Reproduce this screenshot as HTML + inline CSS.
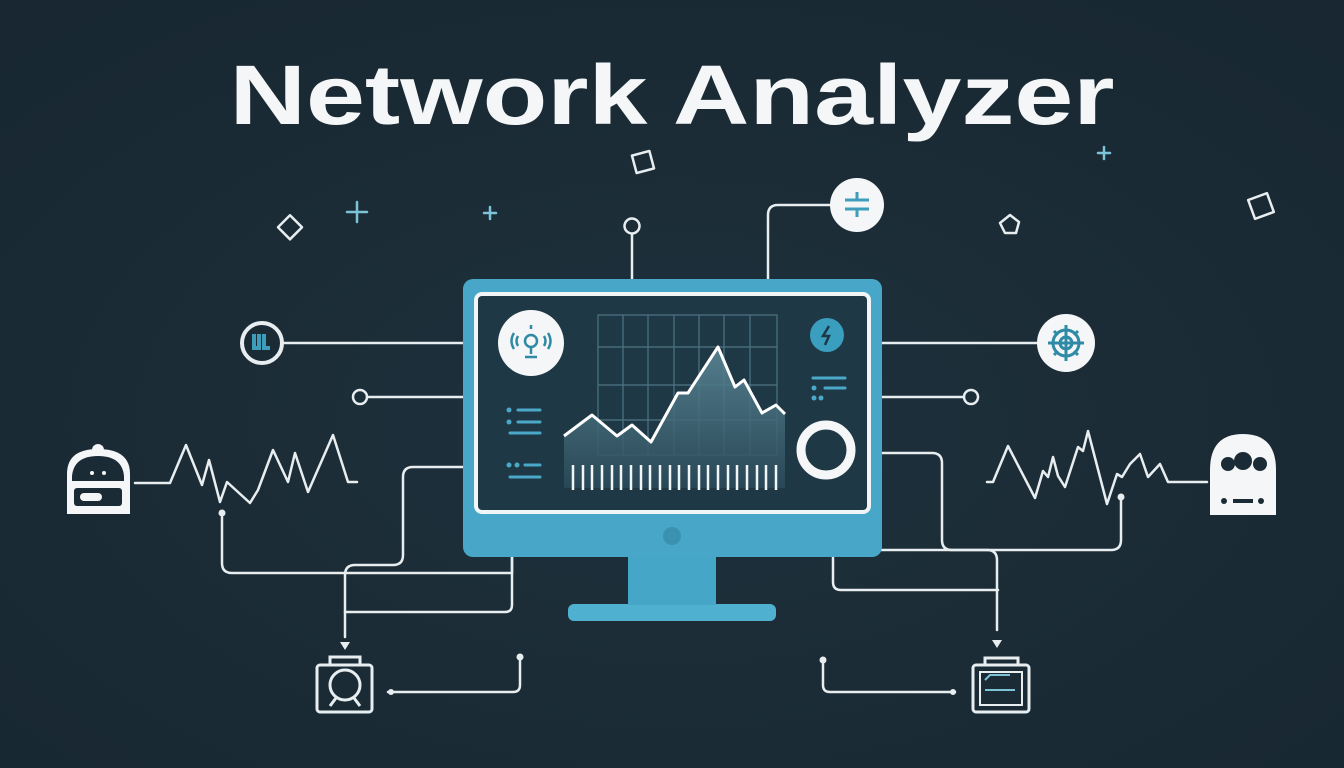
<!DOCTYPE html>
<html><head><meta charset="utf-8"><style>
html,body{margin:0;padding:0;background:#1b2b36;}
svg{display:block}
</style></head><body>
<svg width="1344" height="768" viewBox="0 0 1344 768" xmlns="http://www.w3.org/2000/svg">
<defs>
<radialGradient id="bg" cx="50%" cy="55%" r="70%"><stop offset="0" stop-color="#1e313c"/><stop offset="1" stop-color="#182731"/></radialGradient>
<linearGradient id="area" x1="0" y1="0" x2="0" y2="1"><stop offset="0" stop-color="#5d8a99"/><stop offset="1" stop-color="#2a4a59"/></linearGradient>
</defs>
<rect width="1344" height="768" fill="url(#bg)"/>
<text x="672" y="124" text-anchor="middle" font-family="Liberation Sans, sans-serif" font-weight="bold" font-size="84" fill="#f4f6f7" textLength="885" lengthAdjust="spacingAndGlyphs">Network Analyzer</text>

<g fill="none" stroke="#e8eef0" stroke-width="2.5" stroke-linecap="round" stroke-linejoin="round">
<rect x="281" y="219" width="17" height="17" transform="rotate(45 290 228)"/>
<path d="M357 202v20M347 212h20" stroke="#7cc3d8"/>
<path d="M490 207v12M484 213h12" stroke="#7cc3d8"/>
<rect x="634" y="153" width="18" height="18" transform="rotate(-15 643 162)"/>
<path d="M1104 147v12M1098 153h12" stroke="#7cc3d8"/>
<path d="M1010 215l9 7-3 11h-11l-5-10z"/>
<rect x="1251" y="196" width="20" height="20" transform="rotate(-20 1261 206)"/>

<path d="M632 234v45"/>
<circle cx="632" cy="226" r="7.5"/>
<path d="M768 279v-64q0-10 10-10h52"/>

<path d="M283 343h180"/>
<circle cx="360" cy="397" r="7"/>
<path d="M367 397h96"/>
<path d="M135 483h35L186 445 202 485 209 460 220 502 227 482 250 503 258 490 273 450 288 482 295 453 308 492 333 435 348 482H357"/>
<path d="M222 517v46q0 10 10 10h280v-16"/>
<path d="M463 467h-50q-10 0-10 10v78q0 10-10 10h-38q-10 0-10 10v62"/>
<path d="M345 612h160q7 0 7-7v-48"/>
<path d="M388 692h125q7 0 7-7v-25"/>

<path d="M882 343h155"/>
<circle cx="971" cy="397" r="7"/>
<path d="M882 397h82"/>
<path d="M987 482h6L1008 446 1035 498 1043 471 1048 477 1053 457 1058 476 1065 487 1078 447 1083 451 1088 431 1107 504 1117 474 1122 477 1130 464 1140 454 1148 477 1160 464 1168 482H1207"/>
<path d="M1121 500v40q0 10-10 10h-278"/>
<path d="M882 453h50q10 0 10 10v77q0 10 10 10h35q10 0 10 10v70"/>
<path d="M833 557v25q0 8 8 8h157"/>
<path d="M823 660v25q0 7 7 7h125"/>
</g>
<g fill="#e8eef0">
<path d="M340 642l5 8 5-8z"/>
<path d="M992 640l5 8 5-8z"/>
<circle cx="222" cy="513" r="3.5"/><circle cx="1121" cy="497" r="3.5"/>
<circle cx="520" cy="657" r="3.5"/><circle cx="823" cy="660" r="3.5"/>
<circle cx="391" cy="692" r="3"/><circle cx="953" cy="692" r="3"/>
</g>

<circle cx="262" cy="343" r="20" fill="#1b2b36" stroke="#e8eef0" stroke-width="4"/>
<path d="M254 334v14h5v-14M264 334v14h6" fill="none" stroke="#3d9dbb" stroke-width="4"/>
<circle cx="857" cy="205" r="27" fill="#f4f6f7"/>
<path d="M845 200h24M845 209h24M857 192v8M857 209v8" stroke="#3d9dbb" stroke-width="3"/>
<circle cx="1066" cy="343" r="29" fill="#f4f6f7"/>
<g stroke="#2f8aa6" stroke-width="3" fill="none"><circle cx="1066" cy="343" r="13"/><circle cx="1066" cy="343" r="6"/><path d="M1066 325v36M1048 343h36M1054 331l4 4M1078 331l-4 4M1054 355l4-4M1078 355l-4-4"/></g>

<g fill="#f4f6f7">
<circle cx="98" cy="450" r="6"/>
<path d="M67 514v-40q0-25 31-25 32 0 32 25v40z"/>
</g>
<path d="M72 476q2-20 26-20t26 20v5h-52z" fill="#1b2b36"/>
<rect x="74" y="488" width="48" height="18" rx="3" fill="#1b2b36"/>
<rect x="80" y="493" width="22" height="8" rx="4" fill="#f4f6f7"/>
<circle cx="92" cy="473" r="2" fill="#f4f6f7"/><circle cx="104" cy="473" r="2" fill="#f4f6f7"/>
<path d="M1210 515v-45q0-36 33-36t33 36v45z" fill="#f4f6f7"/>
<circle cx="1228" cy="464" r="7" fill="#1b2b36"/><circle cx="1243" cy="461" r="9" fill="#1b2b36"/><circle cx="1260" cy="464" r="7" fill="#1b2b36"/>
<path d="M1233 501h20" stroke="#1b2b36" stroke-width="4"/>
<circle cx="1224" cy="501" r="3" fill="#1b2b36"/><circle cx="1261" cy="501" r="3" fill="#1b2b36"/>

<g fill="none" stroke="#e8eef0" stroke-width="3">
<rect x="317" y="665" width="55" height="47" rx="3"/>
<path d="M330 665v-8h30v8"/>
<circle cx="345" cy="685" r="15"/>
<path d="M330 706l6-8M360 706l-6-8"/>
<rect x="973" y="665" width="56" height="47" rx="3"/>
<path d="M985 665v-7h33v7"/>
<rect x="980" y="672" width="42" height="33" stroke-width="2"/>
<path d="M985 690h30M985 680l5-5h20" stroke="#7cc3d8" stroke-width="2"/>
</g>

<rect x="568" y="604" width="208" height="17" rx="6" fill="#4fb0d0"/>
<rect x="628" y="555" width="88" height="50" fill="#46a6c7"/>
<rect x="463" y="279" width="419" height="278" rx="10" fill="#48a7c8"/>
<rect x="476" y="294" width="393" height="218" rx="6" fill="#1f3846" stroke="#f1f5f6" stroke-width="4"/>
<circle cx="672" cy="536" r="9" fill="#3b92b0"/>
<g stroke="#4d7585" stroke-width="1.2" fill="none">
<rect x="598" y="315" width="179" height="140"/>
<path d="M623 315v140M648 315v140M674 315v140M699 315v140M724 315v140M750 315v140M598 347h179M598 385h179M598 420h179"/>
</g>
<path d="M564 436L592 415 617 436 632 425 651 442 678 393 688 393 718 347 735 387 744 380 762 413 776 405 785 414V488H564Z" fill="url(#area)" opacity="0.85"/>
<path d="M564 436L592 415 617 436 632 425 651 442 678 393 688 393 718 347 735 387 744 380 762 413 776 405 785 414" fill="none" stroke="#fff" stroke-width="3" stroke-linejoin="round"/>
<g stroke="#f1f5f6" stroke-width="2.5">
<path d="M573 465v25M583 465v25M592 465v25M602 465v25M612 465v25M621 465v25M631 465v25M641 465v25M650 465v25M660 465v25M670 465v25M679 465v25M689 465v25M699 465v25M708 465v25M718 465v25M728 465v25M737 465v25M747 465v25M757 465v25M766 465v25M776 465v25"/>
</g>
<circle cx="531" cy="343" r="33" fill="#f4f6f7"/>
<g fill="none" stroke="#2f8aa6" stroke-width="2.5"><circle cx="531" cy="341" r="6"/><path d="M531 347v7M525 357h12M531 325v4M518 336q-3 5 0 10M514 333q-5 8 0 16M544 336q3 5 0 10M548 333q5 8 0 16"/></g>
<circle cx="827" cy="335" r="17" fill="#3a9ebf"/>
<path d="M829 326l-6 10h6l-4 9" stroke="#1f3846" stroke-width="2.5" fill="none"/>
<circle cx="826" cy="450" r="25" fill="none" stroke="#f4f6f7" stroke-width="9"/>
<g stroke="#4aa8c8" stroke-width="3" stroke-linecap="round">
<path d="M518 410h22M518 422h22M510 433h30M525 465h15M510 477h30M813 378h32M825 388h20"/>
</g>
<g fill="#4aa8c8"><circle cx="509" cy="410" r="2.5"/><circle cx="509" cy="422" r="2.5"/><circle cx="509" cy="465" r="2.5"/><circle cx="517" cy="465" r="2.5"/><circle cx="814" cy="388" r="2.5"/><circle cx="814" cy="398" r="2.5"/><circle cx="821" cy="398" r="2.5"/></g>
</svg>
</body></html>
